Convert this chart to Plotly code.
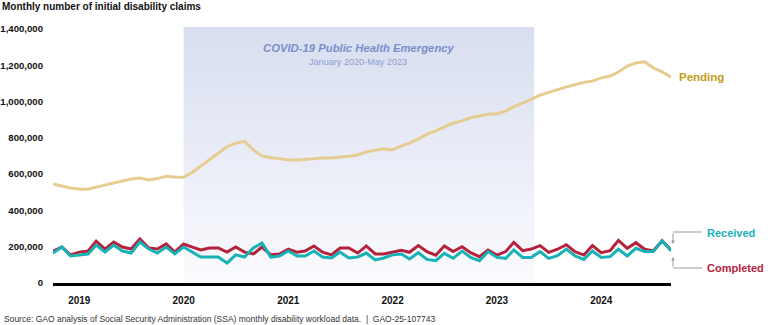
import pandas as pd
import plotly.graph_objects as go

# ---------------- data ----------------
months = pd.date_range("2018-10-01", "2024-09-01", freq="MS")

pending = [545, 535, 523,
           518, 516, 528, 540, 550, 562, 573, 578, 568, 575, 588, 584,
           582, 610, 645, 683, 715, 750, 770, 780, 733, 700, 690, 685,
           678, 678, 682, 685, 688, 688, 692, 698, 705, 722, 732, 740,
           733, 755, 770, 793, 820, 838, 860, 880, 893, 910, 920, 930,
           932, 948, 970, 990, 1012, 1035, 1050, 1068, 1080, 1092, 1105, 1112,
           1130, 1140, 1162, 1195, 1212, 1218, 1185, 1163, 1135]

completed = [176, 198, 155,
             170, 176, 231, 187, 226, 198, 187, 242, 193, 187, 215, 170,
             215, 198, 182, 193, 193, 170, 198, 170, 160, 198, 155, 160,
             187, 170, 176, 204, 170, 155, 193, 193, 165, 204, 160, 160,
             172, 180, 169, 206, 173, 153, 204, 173, 200, 167, 145, 182,
             154, 173, 224, 178, 187, 206, 169, 186, 211, 173, 154, 206,
             167, 178, 235, 191, 222, 186, 176, 233, 182]

received = [165, 198, 149,
            155, 160, 209, 170, 209, 176, 165, 226, 187, 165, 198, 160,
            198, 170, 143, 143, 143, 110, 155, 143, 193, 220, 143, 149,
            176, 149, 149, 176, 143, 138, 170, 138, 143, 165, 127, 138,
            155, 160, 132, 167, 130, 123, 163, 136, 176, 141, 123, 173,
            141, 136, 182, 141, 141, 173, 136, 151, 187, 149, 130, 176,
            141, 145, 186, 149, 191, 173, 173, 233, 178]

pending = [v * 1000 for v in pending]
completed = [v * 1000 for v in completed]
received = [v * 1000 for v in received]

PHE_START = "2020-01-01"
PHE_END = "2023-05-11"
Y_TOP = 1410000

year_ticks = ["2019-01-01", "2020-01-01", "2021-01-01", "2022-01-01", "2023-01-01", "2024-01-01"]
year_labels = ["2019", "2020", "2021", "2022", "2023", "2024"]
y_ticks = [0, 200000, 400000, 600000, 800000, 1000000, 1200000, 1400000]
y_labels = [f"{v:,}" for v in y_ticks]

# ---------------- styling ----------------
FONT = "Arial, 'Liberation Sans', sans-serif"
C_PEND = "#E6CC90"
C_PEND_TXT = "#C49A1A"
C_REC = "#17B2B6"
C_COMP = "#B5223B"
GRAY = "#9A9A9A"

W, H = 780, 325
ML, MR, MT, MB = 53, 109, 27, 42
PW, PH = W - ML - MR, H - MT - MB


def px(x):
    return (x - ML) / PW


def py(y):
    return (H - MB - y) / PH


fig = go.Figure()

# PHE shading with vertical gradient
fig.add_trace(go.Scatter(
    x=[PHE_START, PHE_START, PHE_END, PHE_END, PHE_START],
    y=[0, Y_TOP, Y_TOP, 0, 0],
    mode="lines", line=dict(width=0), fill="toself",
    fillgradient=dict(type="vertical",
                      colorscale=[[0, "#FBFBFE"], [1, "#D8DEF0"]]),
    hoverinfo="skip", showlegend=False,
))

fig.add_trace(go.Scatter(x=months, y=pending, mode="lines",
                         line=dict(color=C_PEND, width=3), name="Pending"))
fig.add_trace(go.Scatter(x=months, y=completed, mode="lines",
                         line=dict(color=C_COMP, width=3), name="Completed"))
fig.add_trace(go.Scatter(x=months, y=received, mode="lines",
                         line=dict(color=C_REC, width=3), name="Received"))

annotations = [
    dict(text="<b>Monthly number of initial disability claims</b>",
         xref="paper", yref="paper", x=px(0), y=py(6), xanchor="left", yanchor="middle",
         showarrow=False, font=dict(size=10, color="#111", family=FONT)),
    dict(text="<b><i>COVID-19 Public Health Emergency</i></b>",
         xref="paper", yref="paper", x=px(359), y=py(47.5), xanchor="center", yanchor="middle",
         showarrow=False, font=dict(size=11.3, color="#7A8ECB", family=FONT)),
    dict(text="January 2020-May 2023",
         xref="paper", yref="paper", x=px(358), y=py(61.5), xanchor="center", yanchor="middle",
         showarrow=False, font=dict(size=9.1, color="#8D9DD0", family=FONT)),
    dict(text="<b>Pending</b>",
         xref="paper", yref="paper", x=px(677), y=py(77), xanchor="left", yanchor="middle",
         showarrow=False, font=dict(size=11.5, color=C_PEND_TXT, family=FONT)),
    dict(text="<b>Received</b>",
         xref="paper", yref="paper", x=px(705), y=py(233), xanchor="left", yanchor="middle",
         showarrow=False, font=dict(size=11, color=C_REC, family=FONT)),
    dict(text="<b>Completed</b>",
         xref="paper", yref="paper", x=px(705), y=py(268), xanchor="left", yanchor="middle",
         showarrow=False, font=dict(size=11, color=C_COMP, family=FONT)),
    dict(text="Source: GAO analysis of Social Security Administration (SSA) monthly disability workload data.  |  GAO-25-107743",
         xref="paper", yref="paper", x=px(2), y=py(319), xanchor="left", yanchor="middle",
         showarrow=False, font=dict(size=8.5, color="#333", family=FONT)),
    # bracket arrows
    dict(text="", xref="paper", yref="paper", x=px(673), y=py(244),
         ax=0, ay=-12, showarrow=True, arrowhead=2, arrowsize=0.7,
         arrowwidth=1, arrowcolor=GRAY),
    dict(text="", xref="paper", yref="paper", x=px(673), y=py(257),
         ax=0, ay=11, showarrow=True, arrowhead=2, arrowsize=0.7,
         arrowwidth=1, arrowcolor=GRAY),
]

shapes = [
    dict(type="line", xref="paper", yref="paper", x0=px(673), x1=px(702),
         y0=py(232), y1=py(232), line=dict(color=GRAY, width=1)),
    dict(type="line", xref="paper", yref="paper", x0=px(673), x1=px(702),
         y0=py(268), y1=py(268), line=dict(color=GRAY, width=1)),
]

fig.update_layout(
    width=W, height=H,
    margin=dict(l=ML, r=MR, t=MT, b=MB, autoexpand=False),
    paper_bgcolor="white", plot_bgcolor="white",
    showlegend=False,
    hovermode=False,
    font=dict(family=FONT, color="#111"),
    annotations=annotations,
    shapes=shapes,
    xaxis=dict(
        type="date",
        range=[months[0], months[-1]],
        tickvals=year_ticks, ticktext=[f"<b>{t}</b>" for t in year_labels],
        tickfont=dict(size=10, color="#111", family=FONT),
        showgrid=False, zeroline=False,
        showline=True, linecolor="black", linewidth=3,
        ticks="", ticklabelstandoff=6, automargin=False,
    ),
    yaxis=dict(
        range=[0, Y_TOP],
        tickvals=y_ticks, ticktext=[f"<b>{t}</b>" for t in y_labels],
        tickfont=dict(size=9.6, color="#111", family=FONT),
        showgrid=False, zeroline=False, showline=False,
        ticks="", ticklabelstandoff=9, automargin=False,
    ),
)

fig.write_html("out.html")
